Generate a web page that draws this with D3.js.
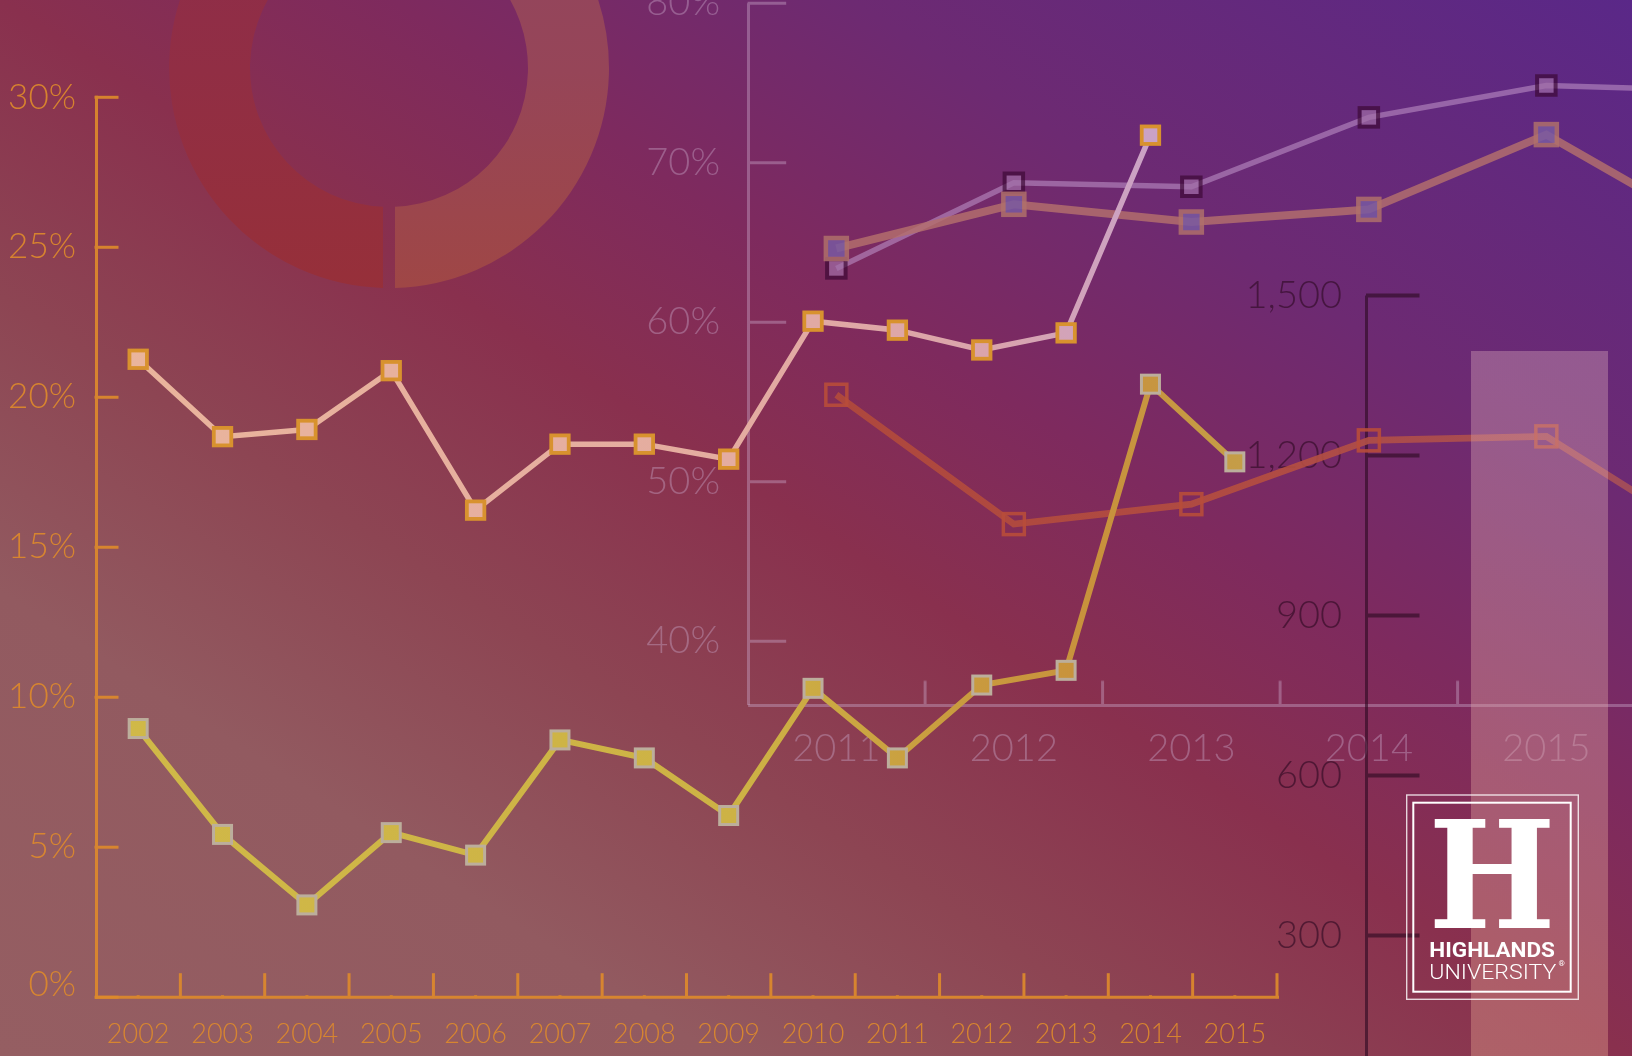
<!DOCTYPE html>
<html>
<head>
<meta charset="utf-8">
<script src="https://cdn.jsdelivr.net/npm/d3@7"></script>
<style>
html, body { margin: 0; padding: 0; overflow: hidden; background: #8a2f4e; }
svg { display: block; }
text { font-family: Lato, "Open Sans", sans-serif; }
</style>
</head>
<body>
<svg id="chart" width="1632" height="1056"></svg>
<script>
// ---- data ----
var years1 = ["2002","2003","2004","2005","2006","2007","2008","2009","2010","2011","2012","2013","2014","2015"];
var rateA  = [21.25, 18.67, 18.91, 20.87, 16.22, 18.42, 18.42, 17.92, 22.52, 22.22, 21.56, 22.13, 28.72, null];
var rateB  = [8.94, 5.41, 3.06, 5.47, 4.72, 8.56, 7.96, 6.04, 10.28, 7.96, 10.39, 10.88, 20.42, 17.83];
var ticks1 = [0, 5, 10, 15, 20, 25, 30];

var years2 = ["2011","2012","2013","2014","2015","2016"];
var shareC = [63.34, 68.71, 68.46, 72.81, 74.81, 74.48];
var shareD = [64.59, 67.36, 66.25, 67.04, 71.73, 65.36];
var shareE = [55.42, 47.31, 48.56, 52.56, 52.81, 45.8];
var ticks2 = [40, 50, 60, 70, 80];
var labels2 = ["2011","2012","2013","2014","2015"];

var barYears = ["2015"];
var enrol    = [1395];
var ticks3   = [300, 600, 900, 1200, 1500];

var donutParts = [51, 49];

// ---- setup ----
var W = 1632, H = 1056;
var svg = d3.select("#chart");
var defs = svg.append("defs");

function makeGrad(id, coords, stops, userSpace) {
    var g = defs.append("linearGradient").attr("id", id)
        .attr("x1", coords[0]).attr("y1", coords[1])
        .attr("x2", coords[2]).attr("y2", coords[3]);
    if (userSpace) g.attr("gradientUnits", "userSpaceOnUse");
    stops.forEach(function(s) {
        g.append("stop").attr("offset", s[0]).attr("stop-color", s[1]);
    });
}

makeGrad("bg", [0, 1, 1, 0], [
    [0, "#955e62"], [0.22, "#925a60"], [0.36, "#8d4553"], [0.5, "#89304e"],
    [0.62, "#7e2a5e"], [0.76, "#6d2a72"], [1, "#5a2888"]]);

svg.append("rect").attr("width", W).attr("height", H).attr("fill", "url(#bg)");

// ---- donut ----
var cx = 389, cy = 68;
makeGrad("dL", [0, -150, 0, 288], [[0, "#8e2d4a"], [0.35, "#912e44"], [1, "#983036"]], true);
makeGrad("dR", [0, -150, 0, 288], [[0, "#92455e"], [0.35, "#964558"], [1, "#a24740"]], true);

var pie = d3.pie().sort(null).startAngle(Math.PI).endAngle(3 * Math.PI).padAngle(0.046);
var arc = d3.arc().innerRadius(139).outerRadius(220);
svg.append("g").attr("transform", "translate(" + cx + "," + cy + ")")
    .selectAll("path").data(pie(donutParts)).enter().append("path")
    .attr("d", arc)
    .attr("fill", function(d, i) { return i === 0 ? "url(#dL)" : "url(#dR)"; });

// ---- scales ----
var x1 = d3.scaleBand().domain(years1).range([96, 1277]);
var y1 = d3.scaleLinear().domain([0, 30]).range([996.7, 96.8]);

var x2 = d3.scaleBand().domain(years2).range([747.6, 747.6 + 6 * 177.5]);
var y2 = d3.scaleLinear().domain([36, 80]).range([704.5, 2.7]);

var y3 = d3.scaleLinear().domain([0, 1500]).range([1095, 295]);
var x3 = d3.scaleBand().domain(barYears).range([1471, 1608]);

function cX1(k) { return x1(k) + x1.bandwidth() / 2; }
function cX2(k) { return x2(k) + x2.bandwidth() / 2; }

// ---- chart 2 axes (mauve) ----
var mauve = "#c8a6c8";
var g2y = svg.append("g").attr("transform", "translate(747.6,0)")
    .call(d3.axisLeft(y2).tickValues(ticks2).tickSizeInner(-38.6).tickSizeOuter(0)
        .tickPadding(27.6).tickFormat(function(d) { return d + "%"; }));
var g2x = svg.append("g").attr("transform", "translate(0,704.5)")
    .call(d3.axisBottom(x2).tickValues(labels2).tickSize(0).tickPadding(30));
g2x.selectAll("line.bt").data(years2).enter().append("line").attr("class", "bt")
    .attr("x1", function(d) { return x2(d) + x2.bandwidth(); })
    .attr("x2", function(d) { return x2(d) + x2.bandwidth(); })
    .attr("y1", 0).attr("y2", -23.7);
[g2y, g2x].forEach(function(g) {
    g.attr("opacity", 0.42);
    g.selectAll("path, line").attr("stroke", mauve).attr("stroke-width", 3);
    g.selectAll("text").attr("fill", mauve).attr("font-size", 38).attr("font-weight", 300);
});

// ---- chart 3 axis (dark) ----
var g3 = svg.append("g").attr("transform", "translate(1366,0)")
    .call(d3.axisLeft(y3).tickValues(ticks3).tickSizeInner(-53.5).tickSizeOuter(0)
        .tickPadding(24).tickFormat(d3.format(",")));
g3.attr("opacity", 0.62);
g3.select(".domain").attr("stroke", "#2e0a22").attr("stroke-width", 3);
g3.selectAll(".tick line").attr("stroke", "#2e0a22").attr("stroke-width", 4);
g3.selectAll("text").attr("fill", "#2e0a22").attr("font-size", 38).attr("font-weight", 300);

// ---- chart 1 axes (orange) ----
var orange = "#de8a2c";
var g1y = svg.append("g").attr("transform", "translate(96,0)")
    .call(d3.axisLeft(y1).tickValues(ticks1).tickSizeInner(-21).tickSizeOuter(0)
        .tickPadding(20).tickFormat(function(d) { return d + "%"; }));
g1y.selectAll(".tick").filter(function(d) { return d === 0; }).select("text").attr("y", -12);
var g1x = svg.append("g").attr("transform", "translate(0,996.7)")
    .call(d3.axisBottom(x1).tickSize(0).tickPadding(27));
g1x.selectAll("line.bt").data(years1).enter().append("line").attr("class", "bt")
    .attr("x1", function(d) { return x1(d) + x1.bandwidth(); })
    .attr("x2", function(d) { return x1(d) + x1.bandwidth(); })
    .attr("y1", 0).attr("y2", -22);
[g1y, g1x].forEach(function(g) {
    g.attr("opacity", 0.92);
    g.selectAll("path, line").attr("stroke", orange).attr("stroke-width", 3).attr("stroke-linecap", "square");
    g.selectAll("text").attr("fill", orange).attr("font-size", 35).attr("font-weight", 300);
});
g1x.selectAll("text").attr("font-size", 27);

// ---- series ----
function pts(keys, vals) {
    return keys.map(function(k, i) { return { k: k, v: vals[i] }; });
}
var dataA = pts(years1, rateA), dataB = pts(years1, rateB);
var dataC = pts(years2, shareC), dataD = pts(years2, shareD), dataE = pts(years2, shareE);

var line1 = d3.line().defined(function(d) { return d.v != null; })
    .x(function(d) { return cX1(d.k); }).y(function(d) { return y1(d.v); });
var line2 = d3.line().defined(function(d) { return d.v != null; })
    .x(function(d) { return cX2(d.k); }).y(function(d) { return y2(d.v); });

makeGrad("gA", [96, 0, 1150, 0], [[0, "#eab59c"], [0.6, "#e4aca0"], [0.85, "#daa4ac"], [1, "#caa2c6"]], true);
makeGrad("gB", [96, 0, 1277, 0], [[0, "#d0b948"], [0.55, "#cdb245"], [0.72, "#c99c3f"], [0.85, "#c8913c"], [1, "#c4a04a"]], true);
makeGrad("gE", [747, 0, 1632, 0], [[0, "#b24a3a"], [0.6, "#b64f40"], [1, "#a85058"]], true);

// E line (orange-red, hollow markers)
svg.append("path").datum(dataE).attr("d", line2)
    .attr("fill", "none").attr("stroke", "url(#gE)").attr("stroke-width", 6.7).attr("opacity", 0.9);
// C and D lines
svg.append("path").datum(dataC).attr("d", line2)
    .attr("fill", "none").attr("stroke", "#b88ac2").attr("stroke-width", 5.5).attr("opacity", 0.62);
svg.append("path").datum(dataD).attr("d", line2)
    .attr("fill", "none").attr("stroke", "#b4706c").attr("stroke-width", 8).attr("opacity", 0.82);
// A and B lines
svg.append("path").datum(dataA).attr("d", line1)
    .attr("fill", "none").attr("stroke", "url(#gA)").attr("stroke-width", 5.5);
svg.append("path").datum(dataB).attr("d", line1)
    .attr("fill", "none").attr("stroke", "url(#gB)").attr("stroke-width", 6);

function markers(data, xf, yf, size, fill, stroke, sw, op) {
    svg.append("g").attr("opacity", op).selectAll("rect")
        .data(data.filter(function(d) { return d.v != null; }))
        .enter().append("rect")
        .attr("x", function(d) { return xf(d.k) - size / 2; })
        .attr("y", function(d) { return yf(d.v) - size / 2; })
        .attr("width", size).attr("height", size)
        .attr("fill", fill).attr("stroke", stroke).attr("stroke-width", sw);
}
markers(dataE, cX2, y2, 21, "none", "#b84d3a", 3.5, 0.9);
markers(dataC, cX2, y2, 18.5, "#a270a8", "#3c0834", 4, 0.68);
markers(dataD, cX2, y2, 21, "#7a5aa2", "#b0706c", 4.5, 0.85);
markers(dataA, cX1, y1, 17.5, "url(#gA)", "#d8922e", 3.8, 1);
markers(dataB, cX1, y1, 18, "url(#gB)", "#bcae9c", 3, 1);

// ---- bar (chart 3) ----
makeGrad("gBar", [0, 351, 0, 1056], [[0, "#dcaabc"], [1, "#eaa890"]], true);
svg.append("g").selectAll("rect").data(barYears).enter().append("rect")
    .attr("x", function(d) { return x3(d); })
    .attr("y", function(d, i) { return y3(enrol[i]); })
    .attr("width", x3.bandwidth())
    .attr("height", function(d, i) { return y3(0) - y3(enrol[i]); })
    .attr("fill", "url(#gBar)").attr("opacity", 0.38);

// ---- logo ----
var logo = svg.append("g");
logo.append("rect").attr("x", 1406.7).attr("y", 795).attr("width", 171.6).attr("height", 204.3)
    .attr("fill", "none").attr("stroke", "#fff").attr("stroke-opacity", 0.8).attr("stroke-width", 1.4);
logo.append("rect").attr("x", 1413.3).attr("y", 802.7).attr("width", 157.4).attr("height", 189)
    .attr("fill", "none").attr("stroke", "#fff").attr("stroke-width", 2);
logo.append("text").attr("x", 1492).attr("y", 928.3).attr("text-anchor", "middle")
    .attr("textLength", 127).attr("lengthAdjust", "spacingAndGlyphs")
    .style("font-family", "'DejaVu Serif', serif").attr("font-weight", 700).attr("font-size", 150)
    .attr("fill", "#fff").text("H");
logo.append("text").attr("x", 1429.3).attr("y", 956.7)
    .attr("textLength", 125.7).attr("lengthAdjust", "spacingAndGlyphs")
    .style("font-family", "Roboto, sans-serif").attr("font-weight", 700).attr("font-size", 19.5)
    .attr("fill", "#fff").text("HIGHLANDS");
logo.append("text").attr("x", 1429.3).attr("y", 979)
    .attr("textLength", 127).attr("lengthAdjust", "spacingAndGlyphs")
    .style("font-family", "Roboto, sans-serif").attr("font-weight", 300).attr("font-size", 20.5)
    .attr("fill", "#fff").text("UNIVERSITY");
logo.append("text").attr("x", 1558.5).attr("y", 966)
    .style("font-family", "Roboto, sans-serif").attr("font-size", 8)
    .attr("fill", "#fff").text("®");
</script>
</body>
</html>
